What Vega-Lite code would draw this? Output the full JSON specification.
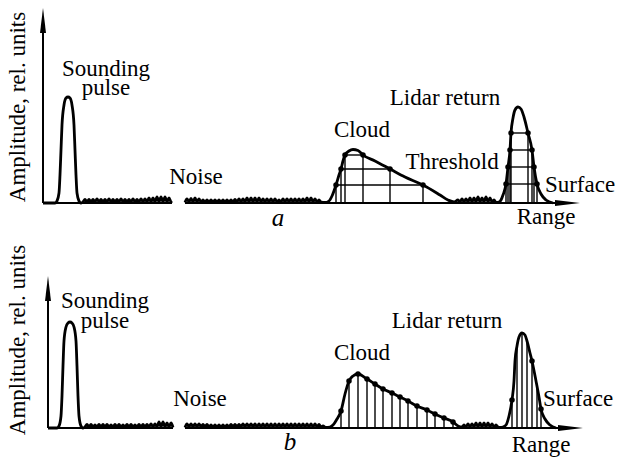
{
  "$schema": "https://vega.github.io/schema/vega-lite/v6.json",
  "background": "white",
  "padding": 0,
  "autosize": {"type": "pad"},
  "spacing": 0,
  "config": {"view": {"stroke": null}, "text": {"font": "Liberation Serif", "fontSize": 23, "color": "black"}},
  "datasets": {
    "curveA": [
      {"seg":1,"x":0,"y":0},{"seg":1,"x":12,"y":0},{"seg":1,"x":14,"y":2},{"seg":1,"x":16,"y":10},{"seg":1,"x":17,"y":28},{"seg":1,"x":18,"y":53},{"seg":1,"x":19,"y":78},{"seg":1,"x":21,"y":98},{"seg":1,"x":23,"y":105},{"seg":1,"x":25,"y":106},{"seg":1,"x":27,"y":105},{"seg":1,"x":29,"y":98},{"seg":1,"x":31,"y":78},{"seg":1,"x":32,"y":53},{"seg":1,"x":33,"y":28},{"seg":1,"x":34,"y":10},{"seg":1,"x":36,"y":2},{"seg":1,"x":38,"y":0},
      {"seg":1,"x":40,"y":1},{"seg":1,"x":42,"y":3.5},{"seg":1,"x":44,"y":1},{"seg":1,"x":46,"y":3.5},{"seg":1,"x":48,"y":1},{"seg":1,"x":50,"y":3.5},{"seg":1,"x":52,"y":1},{"seg":1,"x":54,"y":4},{"seg":1,"x":56,"y":1},{"seg":1,"x":58,"y":3.5},{"seg":1,"x":60,"y":1},{"seg":1,"x":62,"y":3.5},{"seg":1,"x":64,"y":1},{"seg":1,"x":66,"y":4},{"seg":1,"x":68,"y":1},{"seg":1,"x":70,"y":3.5},{"seg":1,"x":72,"y":1},{"seg":1,"x":74,"y":3.5},{"seg":1,"x":76,"y":1},{"seg":1,"x":78,"y":4},{"seg":1,"x":80,"y":1},{"seg":1,"x":82,"y":3.5},{"seg":1,"x":84,"y":1},{"seg":1,"x":86,"y":3.5},{"seg":1,"x":88,"y":1},{"seg":1,"x":90,"y":4},{"seg":1,"x":92,"y":1},{"seg":1,"x":94,"y":3.5},{"seg":1,"x":96,"y":1},{"seg":1,"x":98,"y":4},{"seg":1,"x":100,"y":1},{"seg":1,"x":102,"y":4},{"seg":1,"x":104,"y":1},{"seg":1,"x":106,"y":5},{"seg":1,"x":108,"y":1},{"seg":1,"x":110,"y":5},{"seg":1,"x":112,"y":1},{"seg":1,"x":114,"y":6},{"seg":1,"x":116,"y":1},{"seg":1,"x":118,"y":6},{"seg":1,"x":120,"y":1},{"seg":1,"x":122,"y":6},{"seg":1,"x":124,"y":1},{"seg":1,"x":126,"y":5},{"seg":1,"x":128,"y":1},{"seg":1,"x":129,"y":0},
      {"seg":2,"x":142,"y":0.5},{"seg":2,"x":144,"y":4},{"seg":2,"x":146,"y":1},{"seg":2,"x":148,"y":4.5},{"seg":2,"x":150,"y":1},{"seg":2,"x":152,"y":5},{"seg":2,"x":154,"y":1},{"seg":2,"x":156,"y":4},{"seg":2,"x":158,"y":1},{"seg":2,"x":160,"y":3},{"seg":2,"x":162,"y":1},{"seg":2,"x":164,"y":3},{"seg":2,"x":166,"y":1},{"seg":2,"x":168,"y":3},{"seg":2,"x":170,"y":1},{"seg":2,"x":172,"y":3},{"seg":2,"x":174,"y":1},{"seg":2,"x":176,"y":3},{"seg":2,"x":178,"y":1},{"seg":2,"x":180,"y":3},{"seg":2,"x":182,"y":1},{"seg":2,"x":184,"y":3},{"seg":2,"x":186,"y":1},{"seg":2,"x":188,"y":3},{"seg":2,"x":190,"y":1},{"seg":2,"x":192,"y":3.5},{"seg":2,"x":194,"y":1},{"seg":2,"x":196,"y":4},{"seg":2,"x":198,"y":1},{"seg":2,"x":200,"y":4},{"seg":2,"x":202,"y":1},{"seg":2,"x":204,"y":5},{"seg":2,"x":206,"y":1},{"seg":2,"x":208,"y":5},{"seg":2,"x":210,"y":1},{"seg":2,"x":212,"y":5},{"seg":2,"x":214,"y":1},{"seg":2,"x":216,"y":5},{"seg":2,"x":218,"y":1},{"seg":2,"x":220,"y":4},{"seg":2,"x":222,"y":1},{"seg":2,"x":224,"y":4},{"seg":2,"x":226,"y":1},{"seg":2,"x":228,"y":4},{"seg":2,"x":230,"y":1},{"seg":2,"x":232,"y":4},{"seg":2,"x":234,"y":1},{"seg":2,"x":236,"y":3},{"seg":2,"x":238,"y":1},{"seg":2,"x":240,"y":4},{"seg":2,"x":242,"y":1},{"seg":2,"x":244,"y":4},{"seg":2,"x":246,"y":1},{"seg":2,"x":248,"y":4},{"seg":2,"x":250,"y":1},{"seg":2,"x":252,"y":4},{"seg":2,"x":254,"y":1},{"seg":2,"x":256,"y":4},{"seg":2,"x":258,"y":1},{"seg":2,"x":260,"y":4},{"seg":2,"x":262,"y":1},{"seg":2,"x":264,"y":5},{"seg":2,"x":266,"y":1},{"seg":2,"x":268,"y":5},{"seg":2,"x":270,"y":1},{"seg":2,"x":272,"y":4},{"seg":2,"x":274,"y":1},{"seg":2,"x":276,"y":3},{"seg":2,"x":278,"y":1},
      {"seg":2,"x":282,"y":0.5},{"seg":2,"x":286,"y":2},{"seg":2,"x":289,"y":7},{"seg":2,"x":293,"y":18},{"seg":2,"x":296,"y":28},{"seg":2,"x":298,"y":34},{"seg":2,"x":300,"y":42},{"seg":2,"x":302,"y":48},{"seg":2,"x":306,"y":52},{"seg":2,"x":310,"y":53.5},{"seg":2,"x":315,"y":52.5},{"seg":2,"x":320,"y":48},{"seg":2,"x":332,"y":42},{"seg":2,"x":347,"y":34},{"seg":2,"x":362,"y":26},{"seg":2,"x":380,"y":18},{"seg":2,"x":397,"y":8},{"seg":2,"x":405,"y":3},{"seg":2,"x":411,"y":1},
      {"seg":2,"x":415,"y":3},{"seg":2,"x":417,"y":1},{"seg":2,"x":419,"y":4},{"seg":2,"x":421,"y":1},{"seg":2,"x":423,"y":4},{"seg":2,"x":425,"y":1},{"seg":2,"x":427,"y":5},{"seg":2,"x":429,"y":1},{"seg":2,"x":431,"y":5},{"seg":2,"x":433,"y":1},{"seg":2,"x":435,"y":6},{"seg":2,"x":437,"y":1},{"seg":2,"x":439,"y":5},{"seg":2,"x":441,"y":1},{"seg":2,"x":443,"y":6},{"seg":2,"x":445,"y":1},{"seg":2,"x":447,"y":5},{"seg":2,"x":449,"y":1},{"seg":2,"x":451,"y":3},{"seg":2,"x":453,"y":0.5},
      {"seg":2,"x":456,"y":1},{"seg":2,"x":458,"y":3},{"seg":2,"x":460,"y":8},{"seg":2,"x":463,"y":19},{"seg":2,"x":465,"y":36},{"seg":2,"x":467,"y":53},{"seg":2,"x":468,"y":70},{"seg":2,"x":470,"y":85},{"seg":2,"x":472,"y":93},{"seg":2,"x":475,"y":96},{"seg":2,"x":478,"y":94},{"seg":2,"x":481,"y":86},{"seg":2,"x":485,"y":70},{"seg":2,"x":489,"y":53},{"seg":2,"x":491,"y":36},{"seg":2,"x":494,"y":19},{"seg":2,"x":498,"y":9},{"seg":2,"x":503,"y":3},{"seg":2,"x":510,"y":0}
    ],
    "gridA": [
      {"x":293,"x2":380,"y":18,"y2":18},{"x":298,"x2":347,"y":34,"y2":34},{"x":302,"x2":320,"y":48,"y2":48},
      {"x":463,"x2":494,"y":19,"y2":19},{"x":465,"x2":491,"y":36,"y2":36},{"x":467,"x2":489,"y":53,"y2":53},{"x":468,"x2":485,"y":70,"y2":70},
      {"x":293,"x2":293,"y":0,"y2":18},{"x":298,"x2":298,"y":0,"y2":34},{"x":302,"x2":302,"y":0,"y2":48},{"x":320,"x2":320,"y":0,"y2":48},{"x":347,"x2":347,"y":0,"y2":34},{"x":380,"x2":380,"y":0,"y2":18},
      {"x":463,"x2":463,"y":0,"y2":19},{"x":465,"x2":465,"y":0,"y2":36},{"x":467,"x2":467,"y":0,"y2":53},{"x":468,"x2":468,"y":0,"y2":70},{"x":485,"x2":485,"y":0,"y2":70},{"x":489,"x2":489,"y":0,"y2":53},{"x":491,"x2":491,"y":0,"y2":36},{"x":494,"x2":494,"y":0,"y2":19}
    ],
    "dotsA": [
      {"x":293,"y":18},{"x":298,"y":34},{"x":302,"y":48},{"x":320,"y":48},{"x":347,"y":34},{"x":380,"y":18},
      {"x":463,"y":19},{"x":465,"y":36},{"x":467,"y":53},{"x":468,"y":70},{"x":485,"y":70},{"x":489,"y":53},{"x":491,"y":36},{"x":494,"y":19}
    ],
    "axesA": [
      {"x":0,"x2":129,"y":0,"y2":0},{"x":142,"x2":525,"y":0,"y2":0},{"x":0,"x2":0,"y":0,"y2":183}
    ],
    "arrowRA": [{"x":524.5,"y":0}],
    "arrowUA": [{"x":0,"y":182.5}],
    "labelsA": [
      {"x":63,"y":134,"t":["Sounding","pulse"]},{"x":153,"y":26,"t":"Noise"},{"x":319,"y":73,"t":"Cloud"},{"x":409,"y":41,"t":"Threshold"},{"x":402,"y":105,"t":"Lidar return"},{"x":537,"y":18,"t":"Surface"},{"x":503,"y":-14,"t":"Range"}
    ],
    "italA": [{"x":235,"y":-15,"t":"a"}],
    "ytA": [{"x":-25,"y":96,"t":"Amplitude, rel. units"}],
    "curveB": [
      {"seg":1,"x":0,"y":0},{"seg":1,"x":9,"y":0},{"seg":1,"x":11,"y":2},{"seg":1,"x":13,"y":12},{"seg":1,"x":14,"y":32},{"seg":1,"x":15,"y":62},{"seg":1,"x":16,"y":87},{"seg":1,"x":18,"y":101},{"seg":1,"x":20,"y":105},{"seg":1,"x":22,"y":106},{"seg":1,"x":24,"y":105},{"seg":1,"x":26,"y":101},{"seg":1,"x":28,"y":87},{"seg":1,"x":29,"y":62},{"seg":1,"x":30,"y":32},{"seg":1,"x":31,"y":12},{"seg":1,"x":33,"y":2},{"seg":1,"x":35,"y":0},
      {"seg":1,"x":37,"y":1},{"seg":1,"x":39,"y":3.5},{"seg":1,"x":41,"y":1},{"seg":1,"x":43,"y":3.5},{"seg":1,"x":45,"y":1},{"seg":1,"x":47,"y":3},{"seg":1,"x":49,"y":1},{"seg":1,"x":51,"y":3.5},{"seg":1,"x":53,"y":1},{"seg":1,"x":55,"y":3.5},{"seg":1,"x":57,"y":1},{"seg":1,"x":59,"y":3.5},{"seg":1,"x":61,"y":1},{"seg":1,"x":63,"y":3},{"seg":1,"x":65,"y":1},{"seg":1,"x":67,"y":3.5},{"seg":1,"x":69,"y":1},{"seg":1,"x":71,"y":3.5},{"seg":1,"x":73,"y":1},{"seg":1,"x":75,"y":3},{"seg":1,"x":77,"y":1},{"seg":1,"x":79,"y":3.5},{"seg":1,"x":81,"y":1},{"seg":1,"x":83,"y":3.5},{"seg":1,"x":85,"y":1},{"seg":1,"x":87,"y":3},{"seg":1,"x":89,"y":1},{"seg":1,"x":91,"y":3.5},{"seg":1,"x":93,"y":1},{"seg":1,"x":95,"y":3.5},{"seg":1,"x":97,"y":1},{"seg":1,"x":99,"y":3.5},{"seg":1,"x":101,"y":1},{"seg":1,"x":103,"y":4},{"seg":1,"x":105,"y":1},{"seg":1,"x":107,"y":4},{"seg":1,"x":109,"y":1},{"seg":1,"x":111,"y":6},{"seg":1,"x":113,"y":1},{"seg":1,"x":115,"y":6},{"seg":1,"x":117,"y":1},{"seg":1,"x":119,"y":5},{"seg":1,"x":121,"y":1},{"seg":1,"x":123,"y":5},{"seg":1,"x":125,"y":0.5},
      {"seg":2,"x":137,"y":0.5},{"seg":2,"x":139,"y":4},{"seg":2,"x":141,"y":1},{"seg":2,"x":143,"y":4},{"seg":2,"x":145,"y":1},{"seg":2,"x":147,"y":4},{"seg":2,"x":149,"y":1},{"seg":2,"x":151,"y":4},{"seg":2,"x":153,"y":1},{"seg":2,"x":155,"y":3.5},{"seg":2,"x":157,"y":1},{"seg":2,"x":159,"y":3.5},{"seg":2,"x":161,"y":1},{"seg":2,"x":163,"y":3},{"seg":2,"x":165,"y":1},{"seg":2,"x":167,"y":3},{"seg":2,"x":169,"y":1},{"seg":2,"x":171,"y":3},{"seg":2,"x":173,"y":1},{"seg":2,"x":175,"y":3},{"seg":2,"x":177,"y":1},{"seg":2,"x":179,"y":3},{"seg":2,"x":181,"y":1},{"seg":2,"x":183,"y":3.5},{"seg":2,"x":185,"y":1},{"seg":2,"x":187,"y":3.5},{"seg":2,"x":189,"y":1},{"seg":2,"x":191,"y":3.5},{"seg":2,"x":193,"y":1},{"seg":2,"x":195,"y":4},{"seg":2,"x":197,"y":1},{"seg":2,"x":199,"y":4},{"seg":2,"x":201,"y":1},{"seg":2,"x":203,"y":4},{"seg":2,"x":205,"y":1},{"seg":2,"x":207,"y":4},{"seg":2,"x":209,"y":1},{"seg":2,"x":211,"y":4},{"seg":2,"x":213,"y":1},{"seg":2,"x":215,"y":4},{"seg":2,"x":217,"y":1},{"seg":2,"x":219,"y":4},{"seg":2,"x":221,"y":1},{"seg":2,"x":223,"y":4},{"seg":2,"x":225,"y":1},{"seg":2,"x":227,"y":4},{"seg":2,"x":229,"y":1},{"seg":2,"x":231,"y":4},{"seg":2,"x":233,"y":1},{"seg":2,"x":235,"y":4},{"seg":2,"x":237,"y":1},{"seg":2,"x":239,"y":4},{"seg":2,"x":241,"y":1},{"seg":2,"x":243,"y":4},{"seg":2,"x":245,"y":1},{"seg":2,"x":247,"y":4},{"seg":2,"x":249,"y":1},{"seg":2,"x":251,"y":4},{"seg":2,"x":253,"y":1},{"seg":2,"x":255,"y":4},{"seg":2,"x":257,"y":1},{"seg":2,"x":259,"y":4},{"seg":2,"x":261,"y":1},{"seg":2,"x":263,"y":4},{"seg":2,"x":265,"y":1},{"seg":2,"x":267,"y":4},{"seg":2,"x":269,"y":1},{"seg":2,"x":271,"y":3.5},{"seg":2,"x":273,"y":1},{"seg":2,"x":275,"y":2},{"seg":2,"x":278,"y":0.5},
      {"seg":2,"x":282,"y":1},{"seg":2,"x":285,"y":3},{"seg":2,"x":289,"y":9},{"seg":2,"x":293,"y":17},{"seg":2,"x":297,"y":34},{"seg":2,"x":301,"y":47},{"seg":2,"x":305,"y":52},{"seg":2,"x":310,"y":54},{"seg":2,"x":319,"y":49},{"seg":2,"x":327,"y":44},{"seg":2,"x":335,"y":39},{"seg":2,"x":344,"y":35},{"seg":2,"x":352,"y":31},{"seg":2,"x":360,"y":27},{"seg":2,"x":369,"y":22},{"seg":2,"x":379,"y":18},{"seg":2,"x":387,"y":14},{"seg":2,"x":396,"y":10},{"seg":2,"x":405,"y":6},{"seg":2,"x":410,"y":2},{"seg":2,"x":414,"y":1},
      {"seg":2,"x":416,"y":3},{"seg":2,"x":418,"y":1},{"seg":2,"x":420,"y":4},{"seg":2,"x":422,"y":1},{"seg":2,"x":424,"y":4},{"seg":2,"x":426,"y":1},{"seg":2,"x":428,"y":5},{"seg":2,"x":430,"y":1},{"seg":2,"x":432,"y":5},{"seg":2,"x":434,"y":1},{"seg":2,"x":436,"y":5},{"seg":2,"x":438,"y":1},{"seg":2,"x":440,"y":5},{"seg":2,"x":442,"y":1},{"seg":2,"x":444,"y":4},{"seg":2,"x":446,"y":1},{"seg":2,"x":448,"y":3},{"seg":2,"x":450,"y":1},{"seg":2,"x":452,"y":0.5},
      {"seg":2,"x":455,"y":1},{"seg":2,"x":458,"y":3},{"seg":2,"x":461,"y":12},{"seg":2,"x":464,"y":28},{"seg":2,"x":466,"y":47},{"seg":2,"x":467,"y":67},{"seg":2,"x":469,"y":82},{"seg":2,"x":471,"y":91},{"seg":2,"x":474,"y":95},{"seg":2,"x":477,"y":93},{"seg":2,"x":479,"y":87},{"seg":2,"x":482,"y":75},{"seg":2,"x":484,"y":67},{"seg":2,"x":488,"y":47},{"seg":2,"x":491,"y":31},{"seg":2,"x":493,"y":19},{"seg":2,"x":497,"y":9},{"seg":2,"x":502,"y":3},{"seg":2,"x":508,"y":0}
    ],
    "stemsB": [
      {"x":293,"y":0,"y2":17},{"x":301,"y":0,"y2":47},{"x":310,"y":0,"y2":54},{"x":319,"y":0,"y2":49},{"x":327,"y":0,"y2":44},{"x":335,"y":0,"y2":39},{"x":344,"y":0,"y2":35},{"x":352,"y":0,"y2":31},{"x":360,"y":0,"y2":27},{"x":369,"y":0,"y2":22},{"x":379,"y":0,"y2":18},{"x":387,"y":0,"y2":14},{"x":396,"y":0,"y2":10},{"x":405,"y":0,"y2":6},
      {"x":464,"y":0,"y2":28},{"x":469,"y":0,"y2":82},{"x":474,"y":0,"y2":95},{"x":479,"y":0,"y2":87},{"x":484,"y":0,"y2":67},{"x":489,"y":0,"y2":44},{"x":493,"y":0,"y2":19}
    ],
    "dotsB": [
      {"x":293,"y":17},{"x":301,"y":47},{"x":310,"y":54},{"x":319,"y":49},{"x":327,"y":44},{"x":335,"y":39},{"x":344,"y":35},{"x":352,"y":31},{"x":360,"y":27},{"x":369,"y":22},{"x":379,"y":18},{"x":387,"y":14},{"x":396,"y":10},{"x":405,"y":6},
      {"x":464,"y":28},{"x":484,"y":67},{"x":493,"y":19}
    ],
    "axesB": [
      {"x":0,"x2":125,"y":0,"y2":0},{"x":137,"x2":522,"y":0,"y2":0},{"x":0,"x2":0,"y":0,"y2":140}
    ],
    "arrowRB": [{"x":522.5,"y":0}],
    "arrowUB": [{"x":0,"y":139.5}],
    "labelsB": [
      {"x":57,"y":127,"t":["Sounding","pulse"]},{"x":152,"y":29,"t":"Noise"},{"x":314,"y":75,"t":"Cloud"},{"x":399,"y":107,"t":"Lidar return"},{"x":530,"y":29,"t":"Surface"},{"x":493,"y":-17,"t":"Range"}
    ],
    "italB": [{"x":242,"y":-14,"t":"b"}],
    "ytB": [{"x":-30,"y":88,"t":"Amplitude, rel. units"}]
  },
  "vconcat": [
    {
      "width": 617,
      "height": 230,
      "encoding": {
        "x": {"field": "x", "type": "quantitative", "scale": {"domain": [-43, 574], "zero": false, "nice": false}, "axis": null},
        "y": {"field": "y", "type": "quantitative", "scale": {"domain": [-27, 203], "zero": false, "nice": false}, "axis": null}
      },
      "layer": [
        {"data": {"name": "axesA"}, "mark": {"type": "rule", "strokeWidth": 2, "color": "black"}, "encoding": {"x2": {"field": "x2"}, "y2": {"field": "y2"}}},
        {"data": {"name": "arrowRA"}, "mark": {"type": "point", "shape": "M -1 -0.24 L 1 0 L -1 0.24 Z", "size": 625, "filled": true, "opacity": 1, "color": "black"}},
        {"data": {"name": "arrowUA"}, "mark": {"type": "point", "shape": "M -0.24 1 L 0 -1 L 0.24 1 Z", "size": 625, "filled": true, "opacity": 1, "color": "black"}},
        {"data": {"name": "gridA"}, "mark": {"type": "rule", "strokeWidth": 1.4, "color": "black"}, "encoding": {"x2": {"field": "x2"}, "y2": {"field": "y2"}}},
        {"data": {"name": "curveA"}, "mark": {"type": "line", "interpolate": "monotone", "strokeWidth": 2.8, "color": "black"}, "encoding": {"detail": {"field": "seg"}}},
        {"data": {"name": "dotsA"}, "mark": {"type": "point", "shape": "circle", "size": 30, "filled": true, "opacity": 1, "color": "black"}},
        {"data": {"name": "labelsA"}, "mark": {"type": "text", "align": "center", "baseline": "middle", "lineHeight": 19}, "encoding": {"text": {"field": "t"}}},
        {"data": {"name": "italA"}, "mark": {"type": "text", "align": "center", "baseline": "middle", "fontStyle": "italic", "fontSize": 25}, "encoding": {"text": {"field": "t"}}},
        {"data": {"name": "ytA"}, "mark": {"type": "text", "align": "center", "baseline": "middle", "angle": 270}, "encoding": {"text": {"field": "t"}}}
      ]
    },
    {
      "width": 617,
      "height": 229,
      "encoding": {
        "x": {"field": "x", "type": "quantitative", "scale": {"domain": [-48, 569], "zero": false, "nice": false}, "axis": null},
        "y": {"field": "y", "type": "quantitative", "scale": {"domain": [-32, 197], "zero": false, "nice": false}, "axis": null}
      },
      "layer": [
        {"data": {"name": "axesB"}, "mark": {"type": "rule", "strokeWidth": 2, "color": "black"}, "encoding": {"x2": {"field": "x2"}, "y2": {"field": "y2"}}},
        {"data": {"name": "arrowRB"}, "mark": {"type": "point", "shape": "M -1 -0.24 L 1 0 L -1 0.24 Z", "size": 625, "filled": true, "opacity": 1, "color": "black"}},
        {"data": {"name": "arrowUB"}, "mark": {"type": "point", "shape": "M -0.24 1 L 0 -1 L 0.24 1 Z", "size": 625, "filled": true, "opacity": 1, "color": "black"}},
        {"data": {"name": "stemsB"}, "mark": {"type": "rule", "strokeWidth": 1.4, "color": "black"}, "encoding": {"y2": {"field": "y2"}}},
        {"data": {"name": "curveB"}, "mark": {"type": "line", "interpolate": "monotone", "strokeWidth": 2.8, "color": "black"}, "encoding": {"detail": {"field": "seg"}}},
        {"data": {"name": "dotsB"}, "mark": {"type": "point", "shape": "circle", "size": 30, "filled": true, "opacity": 1, "color": "black"}},
        {"data": {"name": "labelsB"}, "mark": {"type": "text", "align": "center", "baseline": "middle", "lineHeight": 20}, "encoding": {"text": {"field": "t"}}},
        {"data": {"name": "italB"}, "mark": {"type": "text", "align": "center", "baseline": "middle", "fontStyle": "italic", "fontSize": 25}, "encoding": {"text": {"field": "t"}}},
        {"data": {"name": "ytB"}, "mark": {"type": "text", "align": "center", "baseline": "middle", "angle": 270}, "encoding": {"text": {"field": "t"}}}
      ]
    }
  ]
}
